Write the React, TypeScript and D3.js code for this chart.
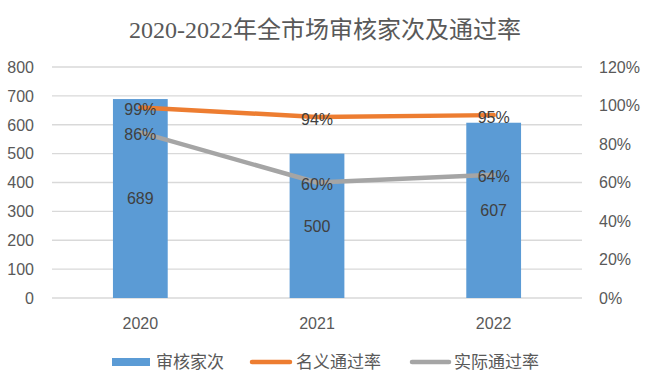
import React from "react";
import * as d3 from "d3";

const categories = ["2020", "2021", "2022"];
const reviewCounts = [689, 500, 607];
const nominalRate = [0.99, 0.94, 0.95];
const actualRate = [0.86, 0.6, 0.64];
const leftTicks = [0, 100, 200, 300, 400, 500, 600, 700, 800];
const rightTicks = [0, 0.2, 0.4, 0.6, 0.8, 1.0, 1.2];
const title = "2020-2022年全市场审核家次及通过率";
const legendLabels = ["审核家次", "名义通过率", "实际通过率"];

const W = 650;
const H = 380;
const M = { left: 52, right: 582, top: 67, bottom: 298 };
const BLUE = "#5B9BD5";
const ORANGE = "#ED7D31";
const GRAY = "#A5A5A5";
const FONT = "'Liberation Sans', 'Noto Sans CJK SC', sans-serif";

export default function App() {
  const x = d3.scaleBand<string>().domain(categories).range([M.left, M.right]).paddingInner(0.69).paddingOuter(0.345);
  const yL = d3.scaleLinear().domain([0, 800]).range([M.bottom, M.top]);
  const yR = d3.scaleLinear().domain([0, 1.2]).range([M.bottom, M.top]);
  const cx = (c: string) => (x(c) as number) + x.bandwidth() / 2;
  const line = d3
    .line<number>()
    .x((_, i) => cx(categories[i]))
    .y((d) => yR(d));
  const pct = d3.format(".0%");

  return (
    <svg width={W} height={H} style={{ position: "absolute", left: 0, top: 0, background: "#fff" }}>
      <text x={W / 2} y={38} textAnchor="middle" fontSize={24} fill="#595959" fontFamily="'Liberation Serif', 'DejaVu Serif', 'Noto Sans CJK SC', serif">
        {title}
      </text>
      {leftTicks.map((t) => (
        <line key={"g" + t} x1={M.left} x2={M.right} y1={yL(t)} y2={yL(t)} stroke="#D9D9D9" strokeWidth={1.3} />
      ))}
      {leftTicks.map((t) => (
        <text key={"l" + t} x={34} y={yL(t)} dy="0.36em" textAnchor="end" fontSize={16} fill="#595959" fontFamily={FONT}>
          {t}
        </text>
      ))}
      {rightTicks.map((t) => (
        <text key={"r" + t} x={599} y={yR(t)} dy="0.36em" textAnchor="start" fontSize={16} fill="#595959" fontFamily={FONT}>
          {pct(t)}
        </text>
      ))}
      {categories.map((c, i) => (
        <rect key={"b" + c} x={x(c)} y={yL(reviewCounts[i])} width={x.bandwidth()} height={yL(0) - yL(reviewCounts[i])} fill={BLUE} />
      ))}
      {categories.map((c) => (
        <text key={"c" + c} x={cx(c)} y={323} dy="0.36em" textAnchor="middle" fontSize={16} fill="#595959" fontFamily={FONT}>
          {c}
        </text>
      ))}
      <path d={line(nominalRate) || ""} fill="none" stroke={ORANGE} strokeWidth={4.5} strokeLinejoin="round" strokeLinecap="round" />
      <path d={line(actualRate) || ""} fill="none" stroke={GRAY} strokeWidth={4.5} strokeLinejoin="round" strokeLinecap="round" />
      {categories.map((c, i) => (
        <text key={"v" + c} x={cx(c)} y={(yL(reviewCounts[i]) + yL(0)) / 2} dy="0.36em" textAnchor="middle" fontSize={16} fill="#404040" fontFamily={FONT}>
          {reviewCounts[i]}
        </text>
      ))}
      {categories.map((c, i) => (
        <text key={"n" + c} x={cx(c)} y={yR(nominalRate[i]) + 2} dy="0.36em" textAnchor="middle" fontSize={16} fill="#404040" fontFamily={FONT}>
          {pct(nominalRate[i])}
        </text>
      ))}
      {categories.map((c, i) => (
        <text key={"a" + c} x={cx(c)} y={yR(actualRate[i]) + 1.5} dy="0.36em" textAnchor="middle" fontSize={16} fill="#404040" fontFamily={FONT}>
          {pct(actualRate[i])}
        </text>
      ))}
      {/* legend */}
      <rect x={112} y={358} width={38} height={8} fill={BLUE} />
      <text x={156} y={362} dy="0.36em" fontSize={17} fill="#595959" fontFamily={FONT}>
        {legendLabels[0]}
      </text>
      <line x1={252} x2={290} y1={362} y2={362} stroke={ORANGE} strokeWidth={4.5} strokeLinecap="round" />
      <text x={296} y={362} dy="0.36em" fontSize={17} fill="#595959" fontFamily={FONT}>
        {legendLabels[1]}
      </text>
      <line x1={412} x2={449} y1={362} y2={362} stroke={GRAY} strokeWidth={4.5} strokeLinecap="round" />
      <text x={454} y={362} dy="0.36em" fontSize={17} fill="#595959" fontFamily={FONT}>
        {legendLabels[2]}
      </text>
    </svg>
  );
}
